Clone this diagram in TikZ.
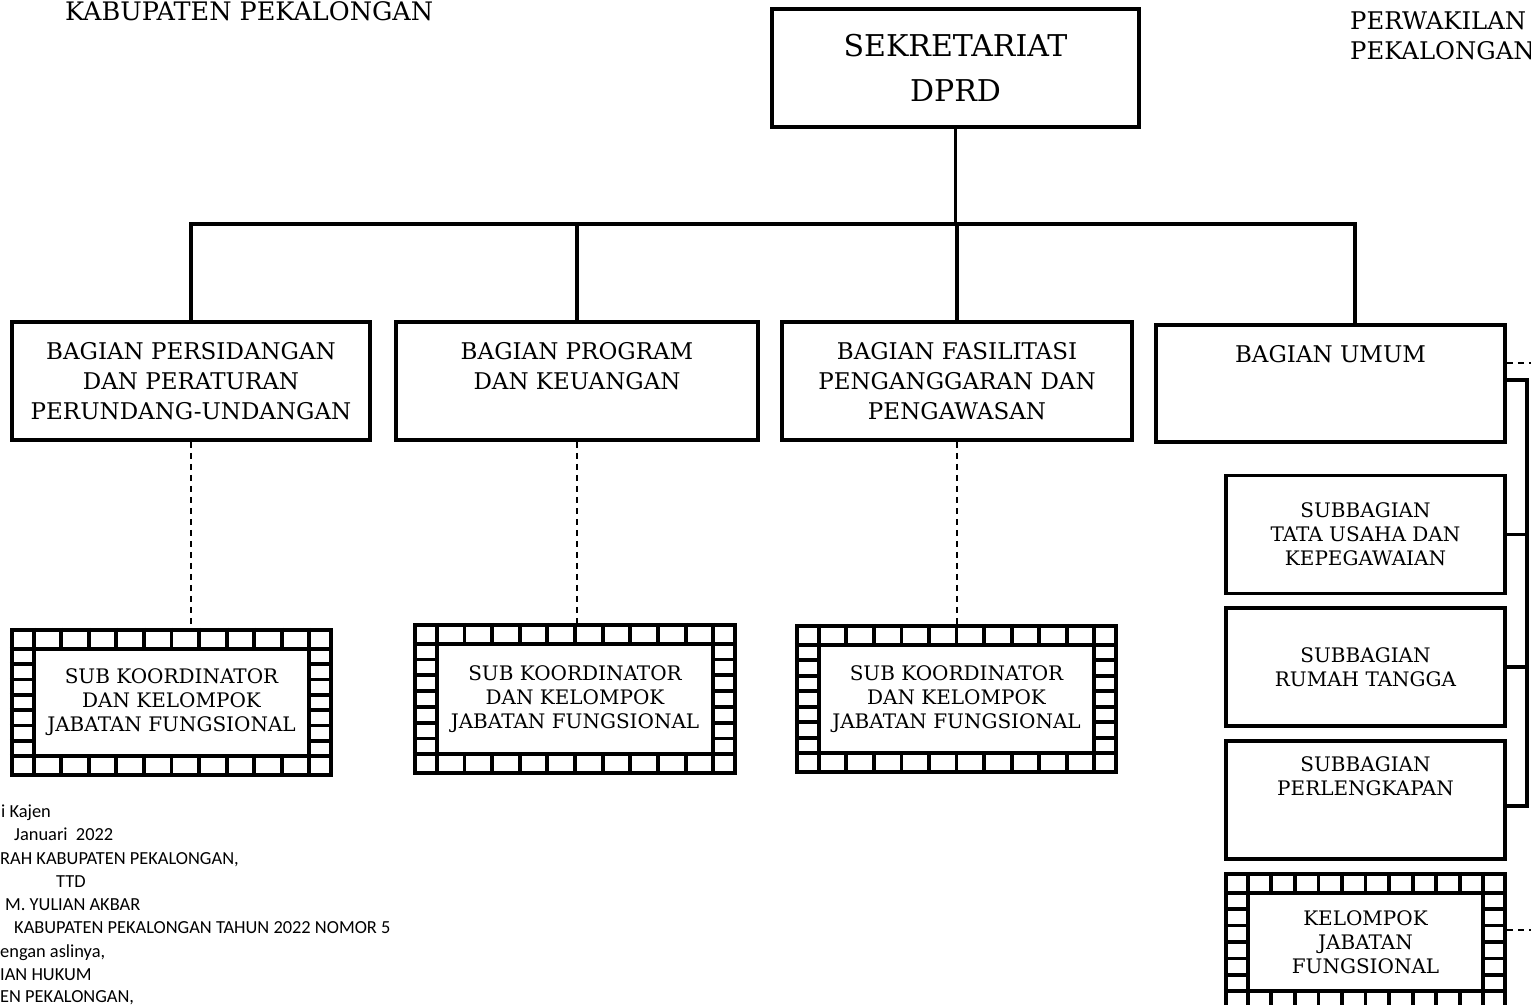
\documentclass[tikz,border=0pt]{standalone}
\usepackage{fontspec}
\setmainfont{DejaVu Serif}
\newfontfamily\notefont{Carlito}
\usetikzlibrary{calc}

\tikzset{
  unitbox/.style={draw, line width=3.5pt, align=center, inner sep=0pt, minimum height=118, font=\fontsize{23}{30}\selectfont},
  subbox/.style={draw, line width=3.5pt, align=center, inner sep=0pt, minimum width=279, minimum height=118, font=\fontsize{20}{24}\selectfont},
  filmbox/.style={draw, line width=4.5pt, align=center, inner sep=0pt, font=\fontsize{20}{24}\selectfont},
  filmline/.style={line width=3.8pt},
  conn/.style={line width=3.5pt},
  dashline/.style={line width=1.6pt, dash pattern=on 6pt off 5pt},
  toptext/.style={anchor=base west, inner sep=0pt, font=\fontsize{25.5}{30}\selectfont},
  note/.style={anchor=base west, inner sep=0pt, font=\notefont\fontsize{18.4}{22}\selectfont}
}

% ladder frame round a node: #1 node, #2 cells along top, #3 cells along sides
\newcommand{\filmframe}[3]{%
  \coordinate (#1-a) at ([shift={(24,21)}]#1.north west);
  \coordinate (#1-b) at ([shift={(-24,-21)}]#1.south east);
  \coordinate (#1-c) at (#1-b |- #1-a);
  \coordinate (#1-d) at (#1-a |- #1-b);
  \draw[filmline] (#1-a |- #1.north) -- (#1-a |- #1.south);
  \draw[filmline] (#1-b |- #1.north) -- (#1-b |- #1.south);
  \draw[filmline] (#1.west |- #1-a) -- (#1.east |- #1-a);
  \draw[filmline] (#1.west |- #1-b) -- (#1.east |- #1-b);
  \pgfmathtruncatemacro\lastc{#2-1}
  \pgfmathtruncatemacro\lastr{#3-1}
  \foreach \i in {1,...,\lastc} {
    \path ($(#1-a)!\i/#2!(#1-c)$) coordinate (tk);
    \draw[filmline] (tk |- #1.north) -- (tk);
    \draw[filmline] (tk |- #1-b) -- (tk |- #1.south);
  }
  \foreach \j in {1,...,\lastr} {
    \path ($(#1-a)!\j/#3!(#1-d)$) coordinate (tk);
    \draw[filmline] (tk -| #1.west) -- (tk);
    \draw[filmline] (tk -| #1-b) -- (tk -| #1.east);
  }
}

\begin{document}
\begin{tikzpicture}[x=1pt, y=-1pt]
  \path[fill=white, use as bounding box] (0,0) rectangle (1531,1004);
  \clip (0,0) rectangle (1531,1004);

  % Header texts
  \node[toptext] (kab) at (65,20) {KABUPATEN PEKALONGAN};
  \node[toptext, font=\fontsize{24.3}{30}\selectfont] (perw) at (1350,29) {PERWAKILAN};
  \node[toptext, font=\fontsize{24.3}{30}\selectfont] (pekl) at (1350,59) {PEKALONGAN};

  % Top box
  \node[draw, line width=3.5pt, align=center, inner sep=0pt, minimum width=367, minimum height=118,
        font=\fontsize{30}{45}\selectfont] (sek) at (955.5,68) {SEKRETARIAT\\DPRD};

  % Bagian boxes
  \node[unitbox, minimum width=358] (bag1) at (191,381) {BAGIAN PERSIDANGAN\\DAN PERATURAN\\PERUNDANG-UNDANGAN};
  \node[unitbox, minimum width=362] (bag2) at (577,381) {BAGIAN PROGRAM\\DAN KEUANGAN\\~};
  \node[unitbox, minimum width=350] (bag3) at (957,381) {BAGIAN FASILITASI\\PENGANGGARAN DAN\\PENGAWASAN};
  \node[unitbox, minimum width=349, minimum height=117] (bag4) at (1330.5,383.5) {BAGIAN UMUM\\~\\~};

  % Tree lines
  \coordinate (bus) at (957,224);
  \coordinate (umumtop) at ([xshift=24.5pt]bag4.north);
  \draw[conn] (sek.south) -- (sek.south |- bus);
  \draw[conn] (bag1.north) |- (umumtop |- bus) -- (umumtop);
  \draw[conn] (bag2.north) -- (bag2.north |- bus);
  \draw[conn] (bag3.north) -- (bag3.north |- bus);

  % Sub koordinator frames
  \node[filmbox, minimum width=319, minimum height=145] (fr1) at (171.5,702.5) {SUB KOORDINATOR\\DAN KELOMPOK\\JABATAN FUNGSIONAL};
  \node[filmbox, minimum width=320, minimum height=148] (fr2) at (575,699) {SUB KOORDINATOR\\DAN KELOMPOK\\JABATAN FUNGSIONAL};
  \node[filmbox, minimum width=319, minimum height=146] (fr3) at (956.5,699) {SUB KOORDINATOR\\DAN KELOMPOK\\JABATAN FUNGSIONAL};
  \filmframe{fr1}{10}{7}
  \filmframe{fr2}{10}{7}
  \filmframe{fr3}{10}{7}

  \draw[dashline] (bag1.south) -- (bag1.south |- fr1.north);
  \draw[dashline] (bag2.south) -- (bag2.south |- fr2.north);
  \draw[dashline] (bag3.south) -- (bag3.south |- fr3.north);

  % Subbagian column
  \node[subbox] (sub1) at (1365.5,534.5) {SUBBAGIAN\\TATA USAHA DAN\\KEPEGAWAIAN};
  \node[subbox] (sub2) at (1365.5,667) {SUBBAGIAN\\RUMAH TANGGA};
  \node[subbox] (sub3) at (1365.5,800) {SUBBAGIAN\\PERLENGKAPAN\\~\\~};
  \node[filmbox, minimum width=279, minimum height=136] (kel) at (1365.5,942) {KELOMPOK\\JABATAN\\FUNGSIONAL};
  \filmframe{kel}{10}{6}

  \coordinate (rail) at (1527,380);
  \draw[conn] (bag4.east |- rail) -- (rail) |- ([yshift=-6pt]sub3.east);
  \draw[conn] (sub1.east) -- (sub1.east -| rail);
  \draw[conn] (sub2.east) -- (sub2.east -| rail);

  \coordinate (umumdash) at (1531,363);
  \coordinate (keldash) at (1531,930);
  \draw[dashline] (bag4.east |- umumdash) -- (umumdash);
  \draw[dashline] (kel.east |- keldash) -- (keldash);

  % Note at bottom left
  \foreach \x/\y/\t [count=\n] in {1/817/{i Kajen}, 14/840/{Januari~~2022}, 0/864/{RAH KABUPATEN PEKALONGAN,},
      56/887/{TTD}, 5/910/{M. YULIAN AKBAR}, 14/933/{KABUPATEN PEKALONGAN TAHUN 2022 NOMOR 5},
      0/957/{engan aslinya,}, 0/980/{IAN HUKUM}, 0/1002/{EN PEKALONGAN,}} {
    \node[note] (note\n) at (\x,\y) {\t};
  }
\end{tikzpicture}
\end{document}
